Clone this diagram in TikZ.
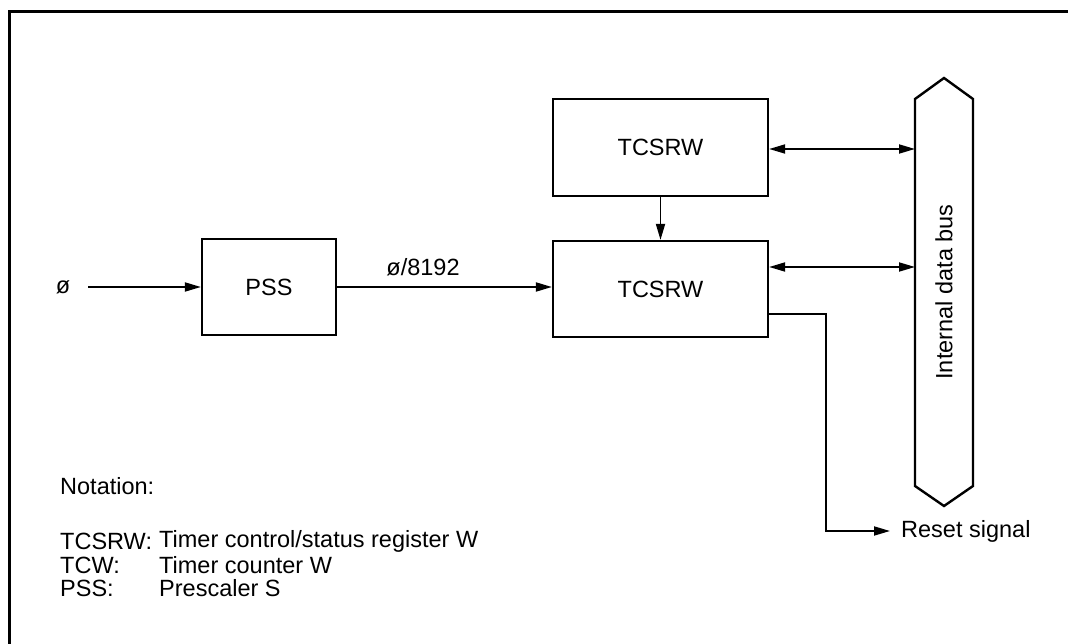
\documentclass[tikz,border=0pt]{standalone}
\usepackage{fontspec}
\setmainfont{Liberation Sans}
\usetikzlibrary{arrows.meta}
\begin{document}
\begin{tikzpicture}[x=1pt,y=-1pt,
  every node/.style={font=\fontsize{23.5}{27}\selectfont, inner sep=0pt},
  blk/.style={draw, line width=2.2pt, minimum width=#1},
  lbl/.style={anchor=west},
  conn/.style={line width=1.8pt, -{Triangle[length=16pt,width=9pt]}},
  biconn/.style={line width=1.8pt, {Triangle[length=16pt,width=9pt]}-{Triangle[length=16pt,width=9pt]}}
]
\useasboundingbox (0,0) rectangle (1068,644);
% frame
\draw[line width=3pt] (9,644) -- (9,12) -- (1068,12);

% nodes
\node (phi) at (63,287) {ø};
\coordinate (in) at (88,287);
\node[blk=134pt, minimum height=96pt] (pss) at (269,287) {PSS};
\node[blk=215pt, minimum height=97pt] (tc1) at (660.5,147.5) {TCSRW};
\node[blk=215pt, minimum height=96pt] (tc2) at (660.5,289) {TCSRW};
\node (div) at (423,267) {ø/8192};

% bus
\draw[line width=2.4pt, line join=miter] (915,99) -- (944,78) -- (973,99) -- (973,486) -- (944,506) -- (915,486) -- cycle;
\node[rotate=90] (bus) at (944,292) {Internal data bus};
\coordinate (b1) at (915,149);
\coordinate (b2) at (915,267);

% connectors
\draw[conn] (in) -- (pss.west);
\draw[conn] (pss.east) -- (tc2.west |- pss.east);
\draw[conn] (tc1.south) -- (tc2.north);
\draw[biconn] (tc1.east |- b1) -- (b1);
\draw[biconn] (tc2.east |- b2) -- (b2);

\coordinate (ry) at (0,314);
\coordinate (rturn) at (826,314);
\coordinate (rend) at (890,531);
\node[lbl] (reset) at (901,531) {Reset signal};
\draw[conn] (tc2.east |- ry) -- (rturn) |- (rend);

% notation
\node[lbl] (not) at (60,486) {Notation:};
\node[lbl] (n1a) at (60,541) {TCSRW:};
\node[lbl] (n1b) at (159,541) {Timer control/status register W};
\node[lbl] (n2a) at (60,565) {TCW:};
\node[lbl] (n2b) at (159,565) {Timer counter W};
\node[lbl] (n3a) at (60,588) {PSS:};
\node[lbl] (n3b) at (159,588) {Prescaler S};
\end{tikzpicture}
\end{document}
